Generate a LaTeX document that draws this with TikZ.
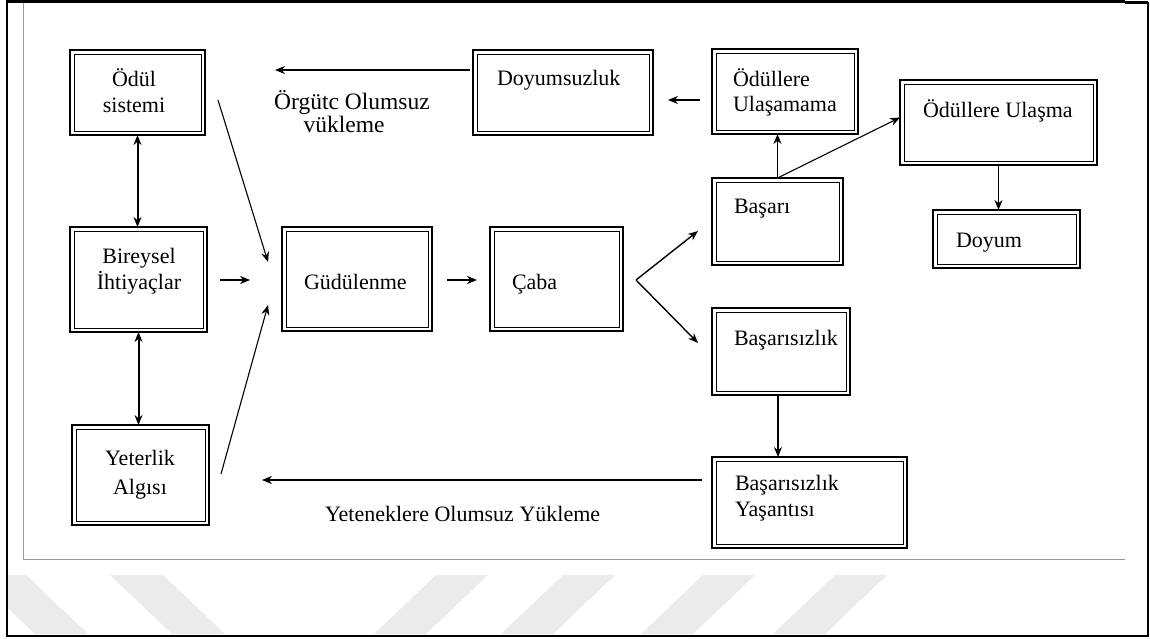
\documentclass[tikz,border=0pt]{standalone}
\usepackage{fontspec}
\setmainfont{Liberation Serif}
\usetikzlibrary{arrows.meta,calc}
\tikzset{
  dbox/.style={draw, line width=1.6pt, inner sep=0pt, outer sep=0pt, anchor=north west,
    path picture={\draw[line width=0.8pt] ([shift={(4pt,4pt)}]path picture bounding box.south west) rectangle ([shift={(-4pt,-4pt)}]path picture bounding box.north east);}},
  txt/.style={inner sep=0pt, outer sep=0pt, font=\fontsize{22}{22}\selectfont, anchor=base west},
  ctxt/.style={txt, anchor=base},
  ltxt/.style={inner sep=0pt, outer sep=0pt, font=\fontsize{23.5}{24}\selectfont, anchor=base},
  arr/.style={line width=1.1pt, -{Stealth[length=10pt,width=8pt]}},
  darr/.style={line width=2pt, {Stealth[length=10pt,width=8pt]}-{Stealth[length=10pt,width=8pt]}},
  stripe/.style={fill=black!8, draw=none},
}
\begin{document}
\begin{tikzpicture}[x=1pt,y=-1pt]
\useasboundingbox (0,0) rectangle (1150,639);
% watermark stripes
\begin{scope}
\clip (8,575) rectangle (1146,635);
\foreach \a in {-27,110} {\fill[stripe] (\a,575) -- (\a+53,575) -- (\a+53+62,634) -- (\a+62,634) -- cycle;}
\foreach \a in {436,563,703,835} {\fill[stripe] (\a,575) -- (\a+52,575) -- (\a+52-62,634) -- (\a-62,634) -- cycle;}
\end{scope}
% frame
\draw[black!40, line width=1pt] (23,0) -- (23,559) -- (1125,559);
\draw[line width=2.6pt] (7,1.5) -- (1125,1.5);
\draw[line width=3pt] (1125,2.5) -- (1148,2.5);
\draw[line width=2.6pt] (7,0) -- (7,636) -- (1148,636) -- (1148,2);

% boxes
\node[dbox, minimum width=135pt, minimum height=85pt] (odul) at (70,50) {};
\node[dbox, minimum width=180pt, minimum height=85pt] (doy) at (473,50) {};
\node[dbox, minimum width=146pt, minimum height=85pt] (ulm) at (712,49) {};
\node[dbox, minimum width=197pt, minimum height=85pt] (ulas) at (900,80) {};
\node[dbox, minimum width=147pt, minimum height=58pt] (doyum) at (933,210) {};
\node[dbox, minimum width=131pt, minimum height=87pt] (bas) at (712,178) {};
\node[dbox, minimum width=137pt, minimum height=105pt] (bir) at (70,227) {};
\node[dbox, minimum width=150pt, minimum height=104pt] (gud) at (282,227) {};
\node[dbox, minimum width=133pt, minimum height=104pt] (caba) at (490,227) {};
\node[dbox, minimum width=138pt, minimum height=87pt] (basz) at (712,308) {};
\node[dbox, minimum width=137pt, minimum height=100pt] (yet) at (72,425) {};
\node[dbox, minimum width=195pt, minimum height=91pt] (yas) at (712,457) {};

% texts
\node[ctxt] (t1a) at (134,87) {Ödül};
\node[ctxt] (t1b) at (134,113) {sistemi};
\node[txt] (t2) at (497,86) {Doyumsuzluk};
\node[txt] (t3a) at (733,87) {Ödüllere};
\node[txt] (t3b) at (733,112) {Ulaşamama};
\node[txt] (t4) at (923,118) {Ödüllere Ulaşma};
\node[txt] (t5) at (956,247) {Doyum};
\node[txt] (t6) at (734,213) {Başarı};
\node[ctxt] (t7a) at (139,263) {Bireysel};
\node[ctxt] (t7b) at (139,289) {İhtiyaçlar};
\node[txt] (t8) at (304,289) {Güdülenme};
\node[txt] (t9) at (512,289) {Çaba};
\node[txt] (t10) at (734,345) {Başarısızlık};
\node[ctxt] (t11a) at (140,465) {Yeterlik};
\node[ctxt] (t11b) at (140,494) {Algısı};
\node[txt] (t12a) at (735,490) {Başarısızlık};
\node[txt] (t12b) at (735,516) {Yaşantısı};
\node[ltxt] (l1a) at (352,110) {Örgütc Olumsuz};
\node[ltxt] (l1b) at (344,133) {vükleme};
\node[txt] (l2) at (325,521) {Yeteneklere Olumsuz Yükleme};

% free ends
\coordinate (c1s) at (470,70);
\coordinate (c1e) at (275,70);
\coordinate (c2s) at (700,100);
\coordinate (c2e) at (668,100);
\coordinate (c8s) at (218,100);
\coordinate (c8e) at (268,262);
\coordinate (c9s) at (220,280);
\coordinate (c9e) at (250,280);
\coordinate (c10s) at (221,474);
\coordinate (c10e) at (268,305);
\coordinate (c11s) at (447,280);
\coordinate (c11e) at (477,280);
\coordinate (c12v) at (636,280);
\coordinate (c12a) at (698,231);
\coordinate (c12b) at (698,343);
\coordinate (c14s) at (702,480);
\coordinate (c14e) at (262,480);

% connectors
\draw[arr] (c1s) -- (c1e);
\draw[arr] (c2s) -- (c2e);
\draw[arr] (bas.north) -- (bas.north |- ulm.south);
\draw[arr] (bas.north) -- ([yshift=5pt]ulas.west);
\draw[arr] (ulas.south) -- (ulas.south |- doyum.north);
\draw[darr] (odul.south) -- (odul.south |- bir.north);
\draw[darr] (bir.south) -- (bir.south |- yet.north);
\draw[arr] (c8s) -- (c8e);
\draw[arr] (c9s) -- (c9e);
\draw[arr] (c10s) -- (c10e);
\draw[arr] (c11s) -- (c11e);
\draw[arr, line width=1.4pt] (c12v) -- (c12a);
\draw[arr, line width=1.4pt] (c12v) -- (c12b);
\draw[arr] ([xshift=-3pt]basz.south) -- ([xshift=-3pt]basz.south |- yas.north);
\draw[arr] (c14s) -- (c14e);
\end{tikzpicture}
\end{document}
